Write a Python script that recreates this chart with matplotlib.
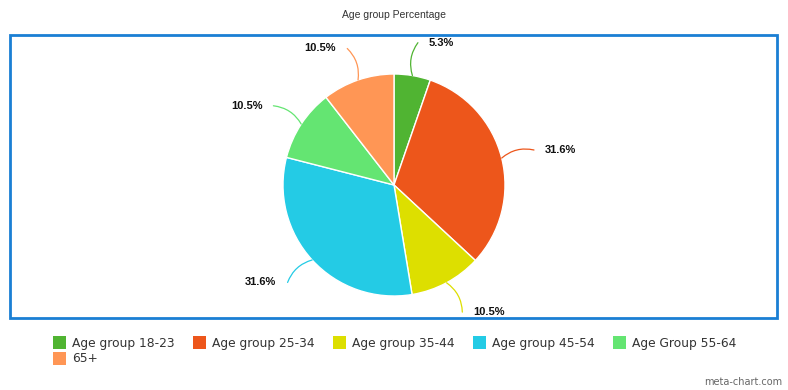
import numpy as np
import matplotlib.pyplot as plt
from matplotlib.patches import Rectangle

# Data
categories = ['Age group 18-23', 'Age group 25-34', 'Age group 35-44',
              'Age group 45-54', 'Age Group 55-64', '65+']
percentages = [5.3, 31.6, 10.5, 31.6, 10.5, 10.5]
colors = ['#50B432', '#ED561B', '#DDDF00', '#24CBE5', '#64E572', '#FF9655']

W, H = 788, 390
fig = plt.figure(figsize=(W / 100, H / 100), dpi=100)
fig.patch.set_facecolor('white')

# title
fig.text(394 / W, 1 - 15 / H, 'Age group Percentage', ha='center', va='center',
         fontsize=7.5, family='Liberation Sans', color='#333333')

# blue frame around plot area
fig.patches.append(Rectangle((10 / W, 1 - 318 / H), 767 / W, 283 / H,
                             transform=fig.transFigure, fill=False,
                             edgecolor='#1a7fd4', linewidth=2))

# pie axes: center (394,185) px, radius 111 px
R = 111
lim = 1.9
size = 2 * lim * R
ax = fig.add_axes([(394 - size / 2) / W, (H - 185 - size / 2) / H, size / W, size / H])

wedges, _ = ax.pie(percentages, colors=colors, startangle=90, counterclock=False,
                   radius=1, wedgeprops=dict(edgecolor='white', linewidth=1))
ax.set_xlim(-lim, lim)
ax.set_ylim(-lim, lim)
ax.axis('off')

for w, pct, c in zip(wedges, percentages, colors):
    ang = np.deg2rad((w.theta1 + w.theta2) / 2)
    x0, y0 = np.cos(ang), np.sin(ang)
    xe, ye = 1.3 * x0, 1.3 * y0
    right = x0 >= 0
    xt = xe + (0.1 if right else -0.1)
    ax.annotate('', xy=(x0, y0), xytext=(xe, ye),
                arrowprops=dict(arrowstyle='-', color=c, lw=0.9,
                                shrinkA=0, shrinkB=0,
                                connectionstyle='arc3,rad=%.2f' % (0.25 if right else -0.25)))
    ax.text(xt, ye, '%.1f%%' % pct, ha='left' if right else 'right', va='center',
            fontsize=8, fontweight='bold', family='Liberation Sans', color='#111111')

# legend drawn manually
for i, (lab, c) in enumerate(zip(categories, colors)):
    row, col = divmod(i, 5)
    x = 53 + col * 140
    y = 343 + row * 16
    fig.patches.append(Rectangle((x / W, 1 - (y + 6) / H), 13 / W, 13 / H,
                                 transform=fig.transFigure, facecolor=c, edgecolor='none'))
    fig.text((x + 19) / W, 1 - y / H, lab, ha='left', va='center',
             fontsize=8.8, family='DejaVu Sans', color='#333333')

fig.text(782 / W, 1 - 382 / H, 'meta-chart.com', ha='right', va='center',
         fontsize=7, family='DejaVu Sans', color='#666666')

plt.savefig('out.png', dpi=100, facecolor='white')
